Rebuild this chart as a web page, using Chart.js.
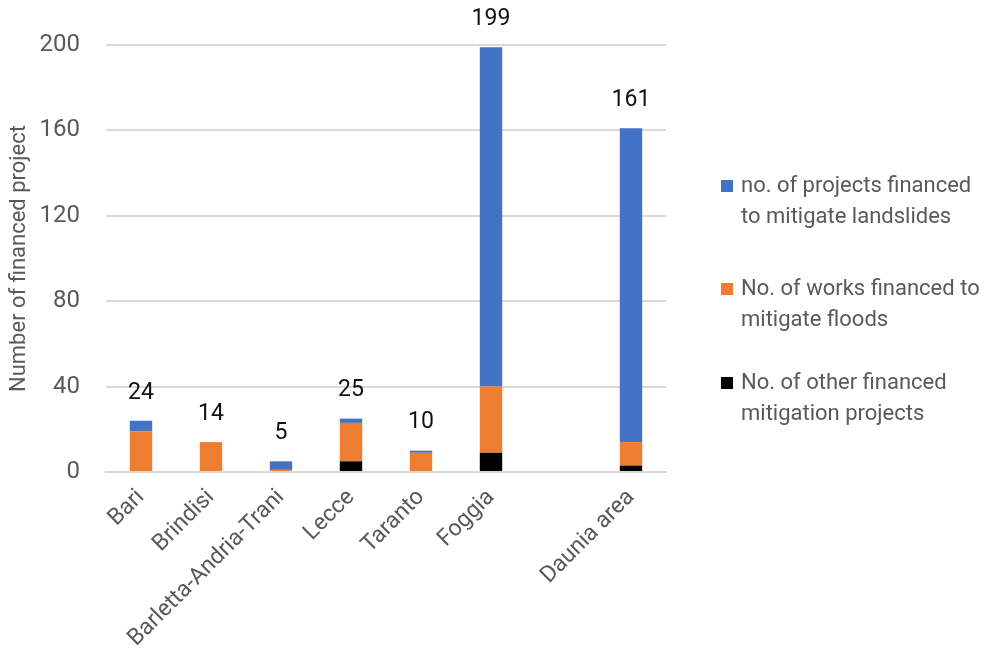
<!DOCTYPE html>
<html lang="en">
<head>
    <meta charset="UTF-8">
    <title>Financed mitigation projects</title>
    <script src="https://cdn.jsdelivr.net/npm/chart.js"></script>
    <style>
        html, body { margin: 0; padding: 0; background: #fff; }
        .chart-box { width: 990px; height: 654px; position: relative; }
    </style>
</head>
<body>
    <div class="chart-box">
        <canvas id="projects"></canvas>
    </div>

    <script>
        const categories = ['Bari', 'Brindisi', 'Barletta-Andria-Trani', 'Lecce', 'Taranto', 'Foggia', '', 'Daunia area'];
        const landslides = [5, 0, 4, 2, 1, 159, null, 147];
        const floods = [19, 14, 1, 18, 9, 31, null, 11];
        const others = [0, 0, 0, 5, 0, 9, null, 3];
        const totals = [24, 14, 5, 25, 10, 199, null, 161];
        const yTicks = [0, 40, 80, 120, 160, 200];

        const legendNames = [
            ['no. of projects financed', 'to mitigate landslides'],
            ['No. of works financed to', 'mitigate floods'],
            ['No. of other financed', 'mitigation projects']
        ];
        const colors = ['#4472C4', '#ED7D31', '#000000'];

        const FONT = "'Roboto', sans-serif";
        const GREY = '#595959';

        // totals above each stack + legend on the right
        const extras = {
            id: 'extras',
            afterDatasetsDraw(chart) {
                const ctx = chart.ctx;
                const x = chart.scales.x, y = chart.scales.y;
                ctx.save();
                ctx.font = '23px ' + FONT;
                ctx.fillStyle = '#111';
                ctx.textAlign = 'center';
                ctx.textBaseline = 'middle';
                totals.forEach((t, i) => {
                    if (t == null) return;
                    ctx.fillText(String(t), x.getPixelForValue(i), y.getPixelForValue(t) - 28);
                });

                ctx.font = '22px ' + FONT;
                ctx.textAlign = 'left';
                const tops = [186, 289, 383];
                legendNames.forEach((lines, k) => {
                    ctx.fillStyle = colors[k];
                    ctx.fillRect(721, tops[k] - 6, 12, 12);
                    ctx.fillStyle = GREY;
                    lines.forEach((ln, j) => ctx.fillText(ln, 741, tops[k] + j * 31));
                });
                ctx.restore();
            }
        };

        new Chart(document.getElementById('projects').getContext('2d'), {
            type: 'bar',
            data: {
                labels: categories,
                datasets: [
                    { label: 'No. of other financed mitigation projects', data: others, backgroundColor: colors[2] },
                    { label: 'No. of works financed to mitigate floods', data: floods, backgroundColor: colors[1] },
                    { label: 'no. of projects financed to mitigate landslides', data: landslides, backgroundColor: colors[0] }
                ]
            },
            options: {
                responsive: true,
                maintainAspectRatio: false,
                animation: false,
                layout: { padding: { top: 45, right: 324, left: 0, bottom: 0 } },
                datasets: { bar: { categoryPercentage: 1, barPercentage: 0.32 } },
                plugins: {
                    legend: { display: false },
                    tooltip: { enabled: false }
                },
                scales: {
                    x: {
                        stacked: true,
                        afterFit(axis) { axis.height = 182; },
                        grid: { display: false },
                        border: { color: '#d9d9d9', width: 2 },
                        ticks: {
                            color: GREY,
                            font: { family: FONT, size: 23 },
                            minRotation: 45,
                            maxRotation: 45,
                            autoSkip: false,
                            padding: 4
                        }
                    },
                    y: {
                        stacked: true,
                        min: 0,
                        max: 200,
                        afterBuildTicks(axis) { axis.ticks = yTicks.map(v => ({ value: v })); },
                        afterFit(axis) { axis.width = 106; },
                        grid: { color: '#d9d9d9', lineWidth: 2, drawTicks: false },
                        border: { display: false },
                        ticks: {
                            color: GREY,
                            font: { family: FONT, size: 24 },
                            padding: 26
                        },
                        title: {
                            display: true,
                            text: 'Number of financed project',
                            color: GREY,
                            font: { family: FONT, size: 22 },
                            padding: { top: 6, bottom: 0 }
                        }
                    }
                }
            },
            plugins: [extras]
        });
    </script>
</body>
</html>
